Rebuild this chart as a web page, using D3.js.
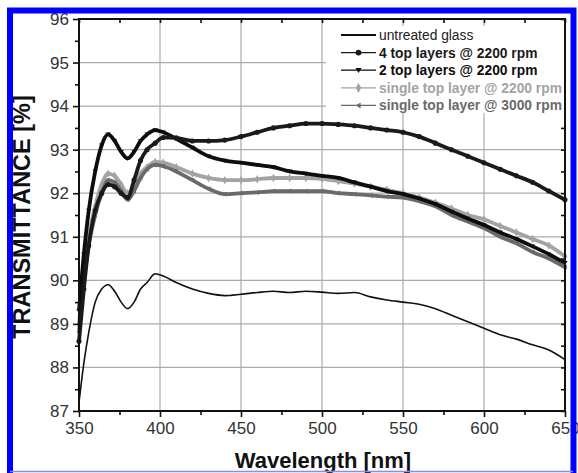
<!DOCTYPE html>
<html>
<head>
<meta charset="utf-8">
<script src="https://cdn.jsdelivr.net/npm/d3@7"></script>
<style>
  body { margin: 0; background: #fff; }
  svg { display: block; font-family: "Liberation Sans", Arial, sans-serif; }
</style>
</head>
<body>
<script>
var W = 578, H = 473;
var margin = { left: 79, right: 13, top: 19, bottom: 62 };

// wavelength grid [nm], shared by all series
var wavelength = [350, 353, 356, 360, 364, 368, 372, 376, 380, 384, 388, 392, 397, 402, 410, 420, 430, 440, 450, 460,
                  470, 480, 490, 500, 510, 520, 530, 540, 550, 560, 570, 580, 590, 600, 610, 620, 630, 640, 650];

var untreated = [87.2, 88.1, 88.8, 89.5, 89.8, 89.9, 89.75, 89.5, 89.35, 89.5, 89.8, 89.95, 90.15, 90.1, 89.95, 89.8, 89.7, 89.65, 89.68, 89.72,
                 89.75, 89.72, 89.75, 89.73, 89.7, 89.72, 89.62, 89.55, 89.5, 89.45, 89.35, 89.2, 89.05, 88.9, 88.75, 88.65, 88.52, 88.4, 88.18];
var fourLayers = [88.6, 89.8, 90.8, 91.6, 92.0, 92.2, 92.15, 92.0, 91.9, 92.3, 92.75, 93.0, 93.15, 93.28, 93.27, 93.2, 93.2, 93.22, 93.3, 93.4,
                  93.5, 93.55, 93.6, 93.6, 93.58, 93.55, 93.5, 93.45, 93.4, 93.3, 93.15, 93.0, 92.85, 92.7, 92.55, 92.4, 92.25, 92.05, 91.85];
var twoLayers = [89.3, 90.6, 91.6, 92.5, 93.1, 93.35, 93.2, 92.95, 92.8, 92.95, 93.2, 93.35, 93.45, 93.4, 93.25, 93.05, 92.85, 92.75, 92.7, 92.65,
                 92.6, 92.5, 92.45, 92.4, 92.35, 92.25, 92.15, 92.05, 91.98, 91.88, 91.75, 91.58, 91.42, 91.27, 91.1, 90.95, 90.78, 90.6, 90.4];
var single2200 = [89.0, 90.2, 91.0, 91.7, 92.2, 92.45, 92.4, 92.2, 92.0, 92.15, 92.45, 92.6, 92.72, 92.7, 92.6, 92.45, 92.35, 92.3, 92.3, 92.32,
                  92.35, 92.35, 92.35, 92.33, 92.28, 92.22, 92.15, 92.08, 92.0, 91.9, 91.78, 91.65, 91.5, 91.4, 91.25, 91.1, 90.95, 90.8, 90.55];
var single3000 = [88.8, 90.0, 90.8, 91.5, 92.0, 92.3, 92.25, 92.05, 91.85, 92.05, 92.35, 92.55, 92.65, 92.62, 92.5, 92.3, 92.1, 91.98, 92.0, 92.02,
                  92.05, 92.05, 92.05, 92.05, 92.0, 91.98, 91.95, 91.92, 91.9, 91.82, 91.7, 91.5, 91.35, 91.2, 91.0, 90.85, 90.65, 90.5, 90.3];

var seriesNames = ["untreated glass", "4 top layers @ 2200 rpm", "2 top layers @ 2200 rpm",
                   "single top layer @ 2200 rpm", "single top layer @ 3000 rpm"];
var seriesValues = [untreated, fourLayers, twoLayers, single2200, single3000];
var seriesColors = ["#111", "#1a1a1a", "#0d0d0d", "#a3a3a3", "#6a6a6a"];
var seriesSymbols = [null, d3.symbolCircle, "down", d3.symbolDiamond, "left"];

var xTicks = [350, 400, 450, 500, 550, 600, 650];
var yTicks = [87, 88, 89, 90, 91, 92, 93, 94, 95, 96];

var svg = d3.select("body").append("svg")
  .attr("width", W)
  .attr("height", H);

var x = d3.scaleLinear().domain([350, 650]).range([margin.left, W - margin.right]);
var y = d3.scaleLinear().domain([87, 96]).range([H - margin.bottom, margin.top]);

// grid
svg.append("g").selectAll("line.gx")
  .data(xTicks).enter().append("line")
  .attr("x1", d => x(d)).attr("x2", d => x(d))
  .attr("y1", y(96)).attr("y2", y(87))
  .attr("stroke", "#ababab").attr("stroke-width", 1.2);
svg.append("g").selectAll("line.gy")
  .data(yTicks).enter().append("line")
  .attr("x1", x(350)).attr("x2", x(650))
  .attr("y1", d => y(d)).attr("y2", d => y(d))
  .attr("stroke", "#ababab").attr("stroke-width", 1.2);

// symbol helper
function symbolPath(kind, size) {
  if (kind === "down") {
    var s = size;
    return "M" + (-s) + "," + (-s * 0.7) + "L" + s + "," + (-s * 0.7) + "L0," + (s * 0.9) + "Z";
  }
  if (kind === "left") {
    var s = size;
    return "M" + (-s * 0.9) + ",0L" + (s * 0.7) + "," + (-s) + "L" + (s * 0.7) + "," + s + "Z";
  }
  return d3.symbol().type(kind).size(size * size * 3)();
}

var line = d3.line()
  .x((d, i) => x(wavelength[i]))
  .y(d => y(d))
  .curve(d3.curveMonotoneX);

// draw series, lighter ones first so black stays on top
var order = [3, 4, 2, 1, 0];
order.forEach(function (k) {
  var vals = seriesValues[k];
  svg.append("path")
    .datum(vals)
    .attr("d", line)
    .attr("fill", "none")
    .attr("stroke", seriesColors[k])
    .attr("stroke-width", k === 0 ? 1.6 : 3.8)
    .attr("stroke-linejoin", "round");
  if (seriesSymbols[k]) {
    svg.append("g").selectAll("path")
      .data(vals).enter().append("path")
      .attr("d", symbolPath(seriesSymbols[k], 2.6))
      .attr("transform", (d, i) => "translate(" + x(wavelength[i]) + "," + y(d) + ")")
      .attr("fill", seriesColors[k]);
  }
});

// frame
svg.append("rect")
  .attr("x", x(350)).attr("y", y(96))
  .attr("width", x(650) - x(350)).attr("height", y(87) - y(96))
  .attr("fill", "none").attr("stroke", "#111").attr("stroke-width", 2);

// axes
var xMinor = d3.range(375, 650, 50);
var yMinor = d3.range(87.5, 96, 1);

var xAxis = svg.append("g").attr("transform", "translate(0," + y(87) + ")")
  .call(d3.axisBottom(x).tickValues(xTicks).tickSize(6).tickPadding(5).tickFormat(d3.format("d")));
var xAxisMinor = svg.append("g").attr("transform", "translate(0," + y(87) + ")")
  .call(d3.axisBottom(x).tickValues(xMinor).tickSize(4).tickFormat(""));
var yAxis = svg.append("g").attr("transform", "translate(" + x(350) + ",0)")
  .call(d3.axisLeft(y).tickValues(yTicks).tickSize(6).tickPadding(4).tickFormat(d3.format("d")));
var yAxisMinor = svg.append("g").attr("transform", "translate(" + x(350) + ",0)")
  .call(d3.axisLeft(y).tickValues(yMinor).tickSize(4).tickFormat(""));
var xTop = svg.append("g").attr("transform", "translate(0," + y(96) + ")")
  .call(d3.axisBottom(x).tickValues(xTicks.concat(xMinor)).tickSize(4).tickFormat(""));
var yRight = svg.append("g").attr("transform", "translate(" + x(650) + ",0)")
  .call(d3.axisLeft(y).tickValues(yTicks.concat(yMinor)).tickSize(4).tickFormat(""));

[xAxis, xAxisMinor, yAxis, yAxisMinor, xTop, yRight].forEach(function (g) {
  g.select(".domain").remove();
  g.selectAll(".tick line").attr("stroke", "#111").attr("stroke-width", 1.6);
  g.selectAll("text").attr("font-size", 17).attr("fill", "#333")
    .attr("font-family", "Liberation Sans, Arial, sans-serif");
});

// legend
var lg = svg.append("g").attr("transform", "translate(326,26)");
lg.append("rect").attr("width", 238).attr("height", 87).attr("fill", "#fff");
seriesNames.forEach(function (name, k) {
  var row = lg.append("g").attr("transform", "translate(0," + (9 + k * 17.6) + ")");
  row.append("line").attr("x1", 15).attr("x2", 50)
    .attr("stroke", seriesColors[k]).attr("stroke-width", k === 0 ? 2 : 1.2);
  if (seriesSymbols[k]) {
    row.append("path").attr("d", symbolPath(seriesSymbols[k], 3))
      .attr("transform", "translate(32.5,0)").attr("fill", seriesColors[k]);
  }
  row.append("text").attr("x", 53).attr("y", 5)
    .attr("font-size", 13.8).attr("font-weight", k === 0 ? "normal" : "bold")
    .attr("fill", k === 0 ? "#222" : seriesColors[k])
    .text(name);
});

// axis titles
svg.append("text")
  .attr("x", 323).attr("y", 468)
  .attr("text-anchor", "middle")
  .attr("font-size", 22).attr("font-weight", "bold").attr("fill", "#111")
  .text("Wavelength [nm]");
svg.append("text")
  .attr("transform", "translate(30,217) rotate(-90)")
  .attr("text-anchor", "middle")
  .attr("font-size", 23.5).attr("font-weight", "bold").attr("fill", "#111")
  .text("TRANSMITTANCE [%]");

// blue border
svg.append("path")
  .attr("d", "M10,480V10.5H573.5V480")
  .attr("fill", "none").attr("stroke", "#0000ff").attr("stroke-width", 6);
svg.append("line")
  .attr("x1", 10).attr("x2", 573).attr("y1", 471.5).attr("y2", 471.5)
  .attr("stroke", "#8888ff").attr("stroke-width", 1.5);
</script>
</body>
</html>
